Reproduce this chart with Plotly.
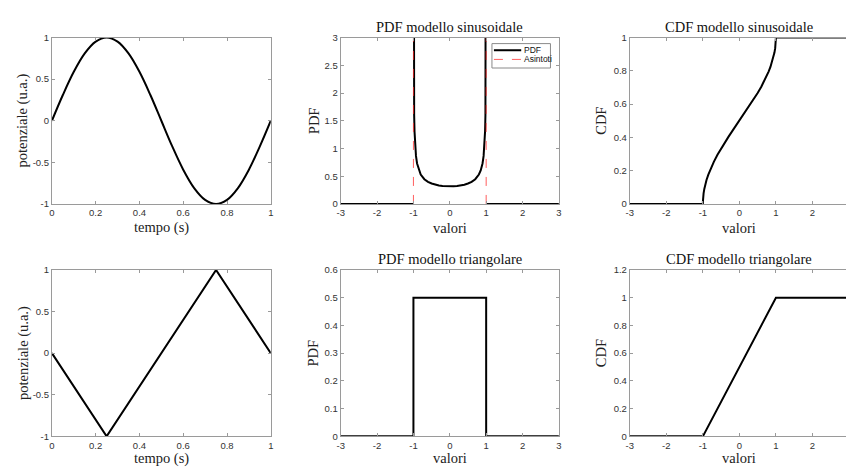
import plotly.graph_objects as go

# ---------------- data ----------------
t_sin = [0, 0.05, 0.1, 0.15, 0.2, 0.25, 0.3, 0.35, 0.4, 0.45, 0.5,
         0.55, 0.6, 0.65, 0.7, 0.75, 0.8, 0.85, 0.9, 0.95, 1.0]
v_sin = [0, 0.309, 0.588, 0.809, 0.951, 1.0, 0.951, 0.809, 0.588, 0.309, 0,
         -0.309, -0.588, -0.809, -0.951, -1.0, -0.951, -0.809, -0.588, -0.309, 0]

pdf_sin_x = [-3, -1, None,
             -0.9995, -0.999, -0.998, -0.996, -0.994, -0.99, -0.985, -0.98, -0.97,
             -0.96, -0.95, -0.93, -0.9, -0.85, -0.8, -0.7, -0.6, -0.5, -0.4,
             -0.3, -0.2, -0.1, 0, 0.1, 0.2, 0.3, 0.4, 0.5, 0.6, 0.7, 0.8, 0.85,
             0.9, 0.93, 0.95, 0.96, 0.97, 0.98, 0.985, 0.99, 0.994, 0.996,
             0.998, 0.999, 0.9995,
             None, 1, 3]
pdf_sin_y = [0, 0, None,
             10.07, 7.12, 5.04, 3.56, 2.91, 2.256, 1.845, 1.600, 1.309,
             1.137, 1.020, 0.866, 0.730, 0.604, 0.531, 0.446, 0.398, 0.368, 0.347,
             0.334, 0.325, 0.320, 0.318, 0.320, 0.325, 0.334, 0.347, 0.368, 0.398,
             0.446, 0.531, 0.604, 0.730, 0.866, 1.020, 1.137, 1.309, 1.600, 1.845,
             2.256, 2.91, 3.56, 5.04, 7.12, 10.07,
             None, 0, 0]

asym_x = [-1, -1, None, 1, 1]
asym_y = [0, 3, None, 0, 3]

cdf_sin_x = [-3, -1, -0.999, -0.995, -0.99, -0.98, -0.96, -0.94, -0.9, -0.85,
             -0.8, -0.7, -0.6, -0.5, -0.4, -0.3, -0.2, -0.1, 0, 0.1, 0.2, 0.3,
             0.4, 0.5, 0.6, 0.7, 0.8, 0.85, 0.9, 0.94, 0.96, 0.98, 0.99, 0.995,
             0.999, 1, 3]
cdf_sin_y = [0, 0, 0.0142, 0.0318, 0.045, 0.0638, 0.0903, 0.1108, 0.1436, 0.1766,
             0.2048, 0.2532, 0.2952, 0.3333, 0.369, 0.403, 0.4359, 0.4681, 0.5,
             0.5319, 0.5641, 0.597, 0.631, 0.6667, 0.7048, 0.7468, 0.7952, 0.8234,
             0.8564, 0.8892, 0.9097, 0.9362, 0.955, 0.9682, 0.9858, 1, 1]

t_tri = [0, 0.25, 0.75, 1]
v_tri = [0, -1, 1, 0]

pdf_tri_x = [-3, -1, -1, 1, 1, 3]
pdf_tri_y = [0, 0, 0.5, 0.5, 0, 0]

cdf_tri_x = [-3, -1, 1, 3]
cdf_tri_y = [0, 0, 1, 1]

# tick values / labels
time_ticks = [0, 0.2, 0.4, 0.6, 0.8, 1]
time_labels = ["0", "0.2", "0.4", "0.6", "0.8", "1"]
pot_ticks = [-1, -0.5, 0, 0.5, 1]
pot_labels = ["-1", "-0.5", "0", "0.5", "1"]
val_ticks = [-3, -2, -1, 0, 1, 2, 3]
val_labels = ["-3", "-2", "-1", "0", "1", "2", "3"]
pdf_sin_ticks = [0, 0.5, 1, 1.5, 2, 2.5, 3]
pdf_sin_labels = ["0", "0.5", "1", "1.5", "2", "2.5", "3"]
cdf_sin_ticks = [0, 0.2, 0.4, 0.6, 0.8, 1]
cdf_sin_labels = ["0", "0.2", "0.4", "0.6", "0.8", "1"]
pdf_tri_ticks = [0, 0.1, 0.2, 0.3, 0.4, 0.5, 0.6]
pdf_tri_labels = ["0", "0.1", "0.2", "0.3", "0.4", "0.5", "0.6"]
cdf_tri_ticks = [0, 0.2, 0.4, 0.6, 0.8, 1, 1.2]
cdf_tri_labels = ["0", "0.2", "0.4", "0.6", "0.8", "1", "1.2"]

titles = ["", "PDF modello sinusoidale", "CDF modello sinusoidale",
          "", "PDF modello triangolare", "CDF modello triangolare"]
xlabels = ["tempo (s)", "valori", "valori", "tempo (s)", "valori", "valori"]
ylabels = ["potenziale (u.a.)", "PDF", "CDF", "potenziale (u.a.)", "PDF", "CDF"]
legend_names = ["PDF", "Asintoti"]

# ---------------- layout geometry ----------------
W, H = 849, 469
col_dom = [[48.3 / W, 269 / W], [339.5 / W, 559.5 / W], [631 / W, 1.0]]
row_dom = [[1 - 202.7 / H, 1 - 32.3 / H], [1 - 440.7 / H, 1 - 270.3 / H]]

BLACK = "black"
AX = "#9a9a9a"
TXT = "#333333"
RED = "rgba(255,40,40,0.75)"
SERIF = "Liberation Serif"
SANS = "Liberation Sans"

fig = go.Figure()

line = dict(color=BLACK, width=2)
fig.add_trace(go.Scatter(x=t_sin, y=v_sin, mode="lines", line=dict(color=BLACK, width=2, shape="spline"),
                         xaxis="x", yaxis="y", showlegend=False))
fig.add_trace(go.Scatter(x=pdf_sin_x, y=pdf_sin_y, mode="lines", line=line, name=legend_names[0],
                         xaxis="x2", yaxis="y2", showlegend=False))
fig.add_trace(go.Scatter(x=asym_x, y=asym_y, mode="lines", name=legend_names[1],
                         line=dict(color=RED, width=1, dash="dash"),
                         xaxis="x2", yaxis="y2", showlegend=False))
fig.add_trace(go.Scatter(x=cdf_sin_x, y=cdf_sin_y, mode="lines", line=line,
                         xaxis="x3", yaxis="y3", showlegend=False))
fig.add_trace(go.Scatter(x=t_tri, y=v_tri, mode="lines", line=line,
                         xaxis="x4", yaxis="y4", showlegend=False))
fig.add_trace(go.Scatter(x=pdf_tri_x, y=pdf_tri_y, mode="lines", line=line,
                         xaxis="x5", yaxis="y5", showlegend=False))
fig.add_trace(go.Scatter(x=cdf_tri_x, y=cdf_tri_y, mode="lines", line=line,
                         xaxis="x6", yaxis="y6", showlegend=False))

cdf_xmax = -3 + (W - 631) / (221 / 6)

specs = [
    # (xrange, xticks, xlabels, yrange, yticks, ylabels, ymirror)
    ([0, 1], time_ticks, time_labels, [-1, 1], pot_ticks, pot_labels, "ticks"),
    ([-3, 3], val_ticks, val_labels, [0, 3], pdf_sin_ticks, pdf_sin_labels, "ticks"),
    ([-3, cdf_xmax], val_ticks, val_labels, [0, 1], cdf_sin_ticks, cdf_sin_labels, False),
    ([0, 1], time_ticks, time_labels, [-1, 1], pot_ticks, pot_labels, "ticks"),
    ([-3, 3], val_ticks, val_labels, [0, 0.6], pdf_tri_ticks, pdf_tri_labels, "ticks"),
    ([-3, cdf_xmax], val_ticks, val_labels, [0, 1.2], cdf_tri_ticks, cdf_tri_labels, False),
]

common = dict(showgrid=False, zeroline=False, showline=True, linecolor=AX, linewidth=1,
              ticks="inside", ticklen=3, tickwidth=1, tickcolor=AX,
              tickfont=dict(family=SANS, size=9.5, color=TXT), fixedrange=True)

title_y = [1 - 21 / H, 1 - 259.5 / H]
xlab_y = [1 - 227 / H, 1 - 463.2 / H]
ylab_x = [19 / W, 312 / W, 602 / W]

annotations = []
for i, (xr, xt, xl, yr, yt, yl, ym) in enumerate(specs):
    r, c = divmod(i, 3)
    n = "" if i == 0 else str(i + 1)
    fig.layout["xaxis" + n] = dict(common, domain=col_dom[c], range=xr, tickvals=xt, ticktext=xl,
                                   anchor="y" + n, mirror="ticks")
    fig.layout["yaxis" + n] = dict(common, domain=row_dom[r], range=yr, tickvals=yt, ticktext=yl,
                                   anchor="x" + n, mirror=ym)
    xc = (col_dom[c][0] + col_dom[c][1]) / 2 if c < 2 else (631 + 110.5) / W
    if titles[i]:
        annotations.append(dict(text=titles[i], x=xc, y=title_y[r], xref="paper", yref="paper",
                                xanchor="center", yanchor="middle", showarrow=False,
                                font=dict(family=SERIF, size=14.5, color="#111")))
    annotations.append(dict(text=xlabels[i], x=xc, y=xlab_y[r], xref="paper", yref="paper",
                            xanchor="center", yanchor="middle", showarrow=False,
                            font=dict(family=SERIF, size=14.5, color="#222")))
    annotations.append(dict(text=ylabels[i], x=ylab_x[c], y=sum(row_dom[r]) / 2,
                            xref="paper", yref="paper", textangle=-90,
                            xanchor="center", yanchor="middle", showarrow=False,
                            font=dict(family=SERIF, size=14.5, color="#222")))


# legend box (top-right of PDF sinusoidale panel)
def px(x):
    return x / W


def py(y):
    return 1 - y / H


shapes = [
    dict(type="rect", xref="paper", yref="paper", x0=px(492), x1=px(551), y0=py(63.5), y1=py(38.5),
         line=dict(color="#8a8a8a", width=1), fillcolor="white", layer="above"),
    dict(type="line", xref="paper", yref="paper", x0=px(494), x1=px(521.5), y0=py(45.3), y1=py(45.3),
         line=dict(color=BLACK, width=2), layer="above"),
    dict(type="line", xref="paper", yref="paper", x0=px(494), x1=px(521.5), y0=py(54.7), y1=py(54.7),
         line=dict(color=RED, width=1, dash="dash"), layer="above"),
]
for name, yy in zip(legend_names, [45.3, 54.7]):
    annotations.append(dict(text=name, x=px(522), y=py(yy), xref="paper", yref="paper",
                            xanchor="left", yanchor="middle", showarrow=False,
                            font=dict(family=SANS, size=8.5, color="#111")))

fig.update_layout(
    width=W, height=H, margin=dict(l=0, r=0, t=0, b=0),
    paper_bgcolor="white", plot_bgcolor="white",
    annotations=annotations, shapes=shapes, showlegend=False,
)

fig.write_html("out.html", config={"displayModeBar": False},
               post_script="document.body.style.margin='0';document.body.style.padding='0';"
                           "document.documentElement.style.overflow='hidden';")
